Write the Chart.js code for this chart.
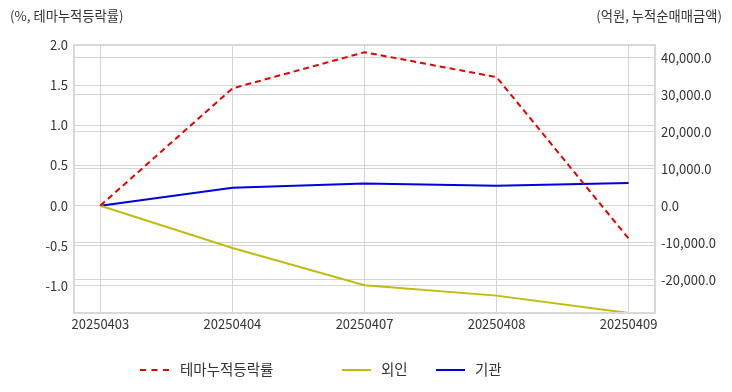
<!DOCTYPE html>
<html>
<head>
<meta charset="utf-8">
<script src="https://cdn.jsdelivr.net/npm/chart.js@4"></script>
<style>
  body { margin: 0; background: #fff; }
  #wrap { position: relative; width: 732px; height: 392px; }
  .legend { position: absolute; top: 359px; left: 0; width: 732px; height: 20px;
            font: 14.5px "Noto Sans CJK KR", "Noto Sans", sans-serif; color: #333; }
  .legend span { position: absolute; top: 0; line-height: 20px; }
  .legend i { position: absolute; top: 10px; width: 29px; height: 0; border-top: 2px solid; }
</style>
</head>
<body>
<div id="wrap">
  <canvas id="grafica" width="732" height="392"></canvas>
  <div class="legend" id="leyenda"></div>
</div>
<script>
// datos
const fechas = ['20250403', '20250404', '20250407', '20250408', '20250409'];
const temaRate = [0, 1.46, 1.91, 1.6, -0.41];
const foreign = [0, -11400, -21500, -24300, -29000];
const institution = [0, 4900, 6000, 5400, 6200];
const leftTicks = [-1.0, -0.5, 0.0, 0.5, 1.0, 1.5, 2.0];
const rightTicks = [-20000, -10000, 0, 10000, 20000, 30000, 40000];
const seriesNames = ['테마누적등락률', '외인', '기관'];

const colores = { rojo: '#e60000', amarillo: '#c0bc10', azul: '#0000dd' };
const fuente = { family: '"Noto Sans CJK KR", "Noto Sans", sans-serif', size: 13 };

const toPoints = arr => arr.map((v, i) => ({ x: i, y: v }));

// marco del area del grafico y titulos de ejes
const marco = {
    id: 'marco',
    afterDraw(chart) {
        const { ctx, chartArea: a } = chart;
        ctx.save();
        ctx.strokeStyle = '#d8d8d8';
        ctx.lineWidth = 2;
        ctx.strokeRect(a.left, a.top, a.right - a.left, a.bottom - a.top);
        ctx.fillStyle = '#333';
        ctx.font = '13.3px ' + fuente.family;
        ctx.textBaseline = 'middle';
        ctx.textAlign = 'left';
        ctx.fillText('(%, 테마누적등락률)', 10, 16);
        ctx.textAlign = 'right';
        ctx.fillText('(억원, 누적순매매금액)', 722, 16);
        ctx.restore();
    }
};

new Chart(document.getElementById('grafica'), {
    type: 'line',
    data: {
        datasets: [{
            label: seriesNames[0],
            data: toPoints(temaRate),
            borderColor: colores.rojo,
            borderWidth: 2,
            borderDash: [6, 4],
            yAxisID: 'y'
        }, {
            label: seriesNames[1],
            data: toPoints(foreign),
            borderColor: colores.amarillo,
            borderWidth: 2,
            yAxisID: 'y1'
        }, {
            label: seriesNames[2],
            data: toPoints(institution),
            borderColor: colores.azul,
            borderWidth: 2,
            yAxisID: 'y1'
        }]
    },
    options: {
        responsive: false,
        animation: false,
        layout: { padding: { top: 45, bottom: 59, left: 0, right: 0 } },
        elements: { point: { radius: 0 }, line: { tension: 0 } },
        plugins: { legend: { display: false }, tooltip: { enabled: false } },
        scales: {
            x: {
                type: 'linear',
                min: -0.2,
                max: 4.2,
                afterBuildTicks: s => { s.ticks = fechas.map((f, i) => ({ value: i })); },
                afterFit: s => { s.height = 20; },
                grid: { color: '#d4d4d4', drawTicks: false },
                border: { display: false },
                ticks: { color: '#333', font: fuente, padding: 3, maxRotation: 0,
                         callback: v => fechas[v] }
            },
            y: {
                position: 'left',
                min: -1.3375,
                max: 2.0,
                afterBuildTicks: s => { s.ticks = leftTicks.map(v => ({ value: v })); },
                afterFit: s => { s.width = 74; },
                grid: { color: '#d4d4d4', drawTicks: false },
                border: { display: false },
                ticks: { color: '#333', font: fuente, padding: 6,
                         callback: v => v.toFixed(1) }
            },
            y1: {
                position: 'right',
                min: -29000,
                max: 43500,
                afterBuildTicks: s => { s.ticks = rightTicks.map(v => ({ value: v })); },
                afterFit: s => { s.width = 77; },
                grid: { color: '#d4d4d4', drawTicks: false },
                border: { display: false },
                ticks: { color: '#333', font: fuente, padding: 6,
                         callback: v => v.toLocaleString('en-US', { minimumFractionDigits: 1, maximumFractionDigits: 1 }) }
            }
        }
    },
    plugins: [marco]
});

// leyenda en html
const leyenda = document.getElementById('leyenda');
const posLeyenda = [[140, 180], [342, 381], [436, 475]];
const estilos = ['dashed', 'solid', 'solid'];
[colores.rojo, colores.amarillo, colores.azul].forEach((c, i) => {
    const linea = document.createElement('i');
    linea.style.left = posLeyenda[i][0] + 'px';
    linea.style.borderTopColor = c;
    linea.style.borderTopStyle = estilos[i];
    leyenda.appendChild(linea);
    const txt = document.createElement('span');
    txt.style.left = posLeyenda[i][1] + 'px';
    txt.textContent = seriesNames[i];
    leyenda.appendChild(txt);
});
</script>
</body>
</html>
